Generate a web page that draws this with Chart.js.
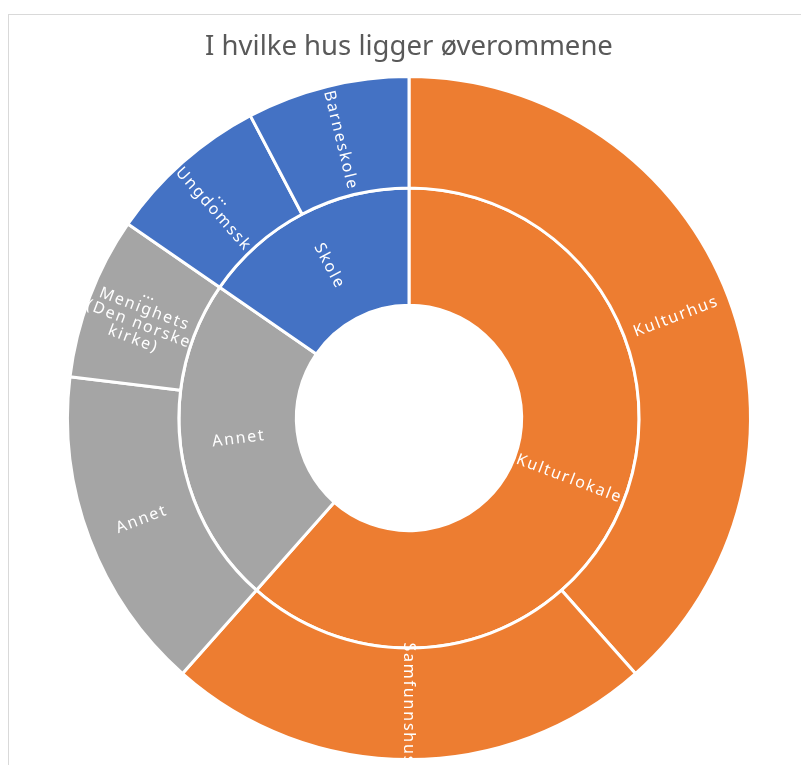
<!DOCTYPE html>
<html>
<head>
<meta charset="utf-8">
<script src="https://cdn.jsdelivr.net/npm/chart.js@4"></script>
<style>
  html, body { margin: 0; padding: 0; background: #fff; overflow: hidden; }
  #frame { position: absolute; left: 8px; top: 14px; width: 900px; height: 900px; border: 1px solid #d9d9d9; }
  #wrap { position: absolute; left: 0; top: 0; width: 801px; height: 765px; }
</style>
</head>
<body>
<div id="frame"></div>
<div id="wrap"><canvas id="sunburst" width="801" height="765"></canvas></div>
<script>
// outer ring (leaf level)
var outerLabels = ['Kulturhus', 'Samfunnshus', 'Annet', 'Menighetshus (Den norske kirke)', 'Ungdomsskole', 'Barneskole'];
var outerValues = [10, 6, 4, 2, 2, 2];
var outerColors = ['#ED7D31', '#ED7D31', '#A5A5A5', '#A5A5A5', '#4472C4', '#4472C4'];
// what actually fits in each outer slice
var outerText = [['Kulturhus'], ['Samfunnshus'], ['Annet'], ['…', 'Menighets', '(Den norske', 'kirke)'], ['…', 'Ungdomssk'], ['Barneskole']];

// inner ring (group level)
var innerLabels = ['Kulturlokale', 'Annet', 'Skole'];
var innerValues = [16, 6, 4];
var innerColors = ['#ED7D31', '#A5A5A5', '#4472C4'];

var sliceLabels = {
  id: 'sliceLabels',
  afterDatasetsDraw: function(chart) {
    var ctx = chart.ctx;
    var texts = [outerText, innerLabels.map(function(l) { return [l]; })];
    ctx.save();
    ctx.fillStyle = '#ffffff';
    ctx.font = '16px "Noto Sans"';
    ctx.letterSpacing = '1.8px';
    ctx.textAlign = 'center';
    ctx.textBaseline = 'middle';
    chart.data.datasets.forEach(function(ds, di) {
      var meta = chart.getDatasetMeta(di);
      meta.data.forEach(function(arc, i) {
        var p = arc.getProps(['x', 'y', 'startAngle', 'endAngle', 'innerRadius', 'outerRadius'], true);
        var a = (p.startAngle + p.endAngle) / 2;
        var r = (p.innerRadius + p.outerRadius) / 2;
        var cx = p.x + Math.cos(a) * r;
        var cy = p.y + Math.sin(a) * r;
        var rot = Math.cos(a) > -1e-6 ? a : a + Math.PI;
        var lines = texts[di][i];
        ctx.save();
        ctx.translate(cx, cy);
        ctx.rotate(rot);
        var lh = 16;
        lines.forEach(function(t, k) {
          ctx.fillText(t, 0, (k - (lines.length - 1) / 2) * lh);
        });
        ctx.restore();
      });
    });
    ctx.restore();
  }
};

new Chart(document.getElementById('sunburst'), {
  type: 'doughnut',
  data: {
    labels: outerLabels,
    datasets: [
      { label: 'Hus', data: outerValues, backgroundColor: outerColors, borderColor: '#ffffff', borderWidth: 3, weight: 111 },
      { label: 'Type', data: innerValues, backgroundColor: innerColors, borderColor: '#ffffff', borderWidth: 3, weight: 117 }
    ]
  },
  options: {
    responsive: false,
    animation: false,
    cutout: '33%',
    layout: { padding: { left: 66, right: 49, top: 0, bottom: 4 } },
    plugins: {
      legend: { display: false },
      tooltip: { enabled: false },
      title: {
        display: true,
        text: 'I hvilke hus ligger øverommene',
        color: '#595959',
        font: { family: '"Noto Sans"', size: 27.5, weight: 'normal', lineHeight: 1.2 },
        padding: { top: 30.5, bottom: 11.5 }
      }
    }
  },
  plugins: [sliceLabels]
});
</script>
</body>
</html>
